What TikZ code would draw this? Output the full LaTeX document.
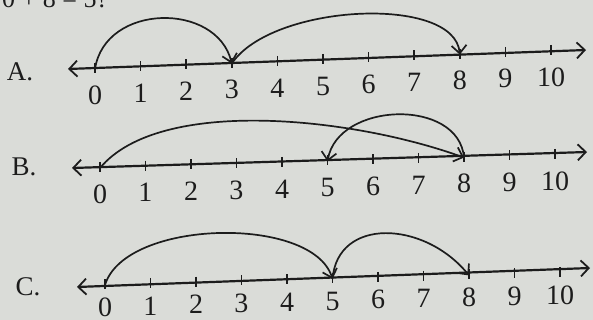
\documentclass[tikz,border=0pt]{standalone}
\usepackage{fontspec}
\setmainfont{Liberation Serif}
\usetikzlibrary{arrows.meta,calc}
\definecolor{paper}{HTML}{DADCD8}
\definecolor{ink}{HTML}{1C1C1C}
\begin{document}
\begin{tikzpicture}[x=1pt,y=-1pt,
  axis/.style={draw=ink,line width=2.2pt,
    {Straight Barb[length=8pt,width=16pt,line width=1.8pt]}-{Straight Barb[length=8pt,width=16pt,line width=1.8pt]}},
  tickmark/.style={draw=ink,line width=1.6pt},
  hop/.style={draw=ink,line width=1.7pt,-{Straight Barb[length=8pt,width=15pt,line width=1.7pt]}},
  num/.style={font=\fontsize{28}{28}\selectfont,text=ink,inner sep=0pt},
  optlabel/.style={font=\fontsize{27}{27}\selectfont,text=ink,inner sep=0pt}]
\clip (0,0) rectangle (593,320);
\fill[paper] (0,0) rectangle (593,320);
\node[anchor=base west,font=\fontsize{26}{26}\selectfont,text=ink,inner sep=0pt] (question) at (2,8) {0 + 8 = 5?};
\foreach \n/\lx/\ly/\rx/\ry/\zx/\zy/\tx/\ty/\d in
  {A/68/69/586/50/95/69/551/51/26,
   B/72/168/587/152/100/168/555/155/26,
   C/77/287/590/268/105/285/560/273/22}{
  \coordinate (\n-L) at (\lx,\ly);
  \coordinate (\n-R) at (\rx,\ry);
  \draw[axis] (\n-L) -- (\n-R);
  \foreach \i in {0,...,10}{
    \coordinate (\n-\i) at ($(\zx,\zy)!\i/10!(\tx,\ty)$);
    \draw[tickmark] ($(\n-\i)+(0,-6)$) -- ($(\n-\i)+(0,4)$);
    \node[num] (\n-lab\i) at ($(\n-\i)+(0,\d)$) {\i};
  }
}
\node[optlabel] (optA) at (20,72) {A.};
\node[optlabel] (optB) at (24,167) {B.};
\node[optlabel] (optC) at (28,287) {C.};
% A
\draw[hop] (A-0) .. controls ($(A-0)+(10,-66)$) and ($(A-3)+(-15,-62)$) .. (A-3);
\draw[hop] (A-3) .. controls ($(A-3)+(40,-60)$) and ($(A-8)+(-5,-60)$) .. (A-8);
% B
\draw[hop] (B-0) .. controls ($(B-0)+(60,-72)$) and ($(B-8)+(-110,-40)$) .. (B-8);
\draw[hop] (B-8) .. controls ($(B-8)+(-5,-60)$) and ($(B-5)+(10,-60)$) .. (B-5);
% C
\draw[hop] (C-0) .. controls ($(C-0)+(20,-66)$) and ($(C-5)+(-20,-64)$) .. (C-5);
\draw[hop] (C-5) .. controls ($(C-5)+(5,-62)$) and ($(C-8)+(-45,-55)$) .. (C-8);
\end{tikzpicture}
\end{document}
